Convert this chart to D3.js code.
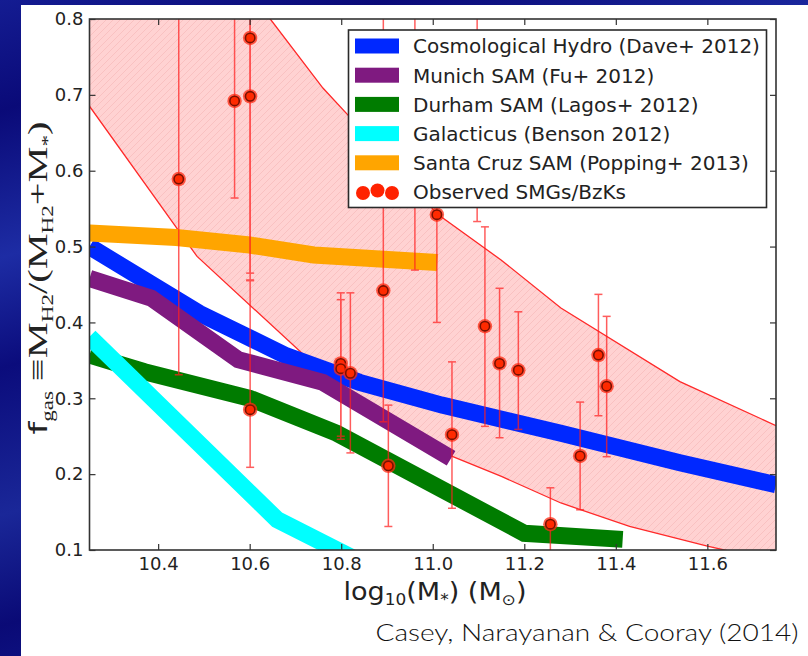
<!DOCTYPE html>
<html><head><meta charset="utf-8">
<script src="https://cdn.jsdelivr.net/npm/d3@7"></script>
<style>html,body{margin:0;padding:0;background:#fff;}svg{display:block;}</style>
</head><body>
<svg id="c" width="808" height="656"></svg>
<script>
// ---------------- data ----------------
const xTicks = [10.4, 10.6, 10.8, 11.0, 11.2, 11.4, 11.6];
const yTicks = [0.1, 0.2, 0.3, 0.4, 0.5, 0.6, 0.7, 0.8];

const hydro = [[10.25,0.50],[10.49,0.412],[10.68,0.356],[10.84,0.321],[11.02,0.291],[11.28,0.254],[11.54,0.215],[11.75,0.186]];
const munich = [[10.25,0.458],[10.385,0.432],[10.575,0.351],[10.76,0.321],[11.04,0.221]];
const durham = [[10.25,0.357],[10.37,0.335],[10.6,0.30],[10.79,0.254],[11.2,0.122],[11.415,0.114]];
const galacticus = [[10.25,0.381],[10.66,0.14],[10.84,0.085]];
const santaCruz = [[10.25,0.518],[10.44,0.512],[10.6,0.502],[10.74,0.489],[11.01,0.479]];

const bandUpper = [[10.25,1.11],[10.645,0.80],[10.76,0.709],[10.82,0.67],[11.01,0.543],[11.15,0.482],[11.28,0.419],[11.54,0.322],[11.75,0.264]];
const bandLower = [[10.25,0.685],[10.485,0.487],[10.76,0.334],[11.04,0.224],[11.15,0.197],[11.28,0.162],[11.43,0.131],[11.6,0.105],[11.75,0.085]];

const obsX  = [10.445,10.567,10.601,10.601,10.601,10.799,10.799,10.820,10.892,10.903,10.961,11.009,11.042,11.097,11.114,11.146,11.187,11.257,11.322,11.362,11.380];
const obsY  = [0.589, 0.692, 0.775, 0.698, 0.285, 0.346, 0.339, 0.333, 0.442, 0.211, 0.90,  0.542, 0.252, 0.86,  0.395, 0.346, 0.337, 0.134, 0.224, 0.357, 0.316];
const obsLo = [0.331, 0.564, 0.465, 0.456, 0.209, 0.250, 0.246, 0.228, 0.269, 0.131, 0.469, 0.400, 0.155, 0.533, 0.263, 0.248, 0.259, 0.05,  0.153, 0.277, 0.223];
const obsHi = [0.95,  0.95,  0.95,  0.95,  0.455, 0.439, 0.430, 0.439, 0.95,  0.291, 1.2,   0.68,  0.348, 1.2,   0.526, 0.445, 0.414, 0.182, 0.295, 0.437, 0.408];

const legendLabels = ["Cosmological Hydro (Dave+ 2012)","Munich SAM (Fu+ 2012)","Durham SAM (Lagos+ 2012)","Galacticus (Benson 2012)","Santa Cruz SAM (Popping+ 2013)","Observed SMGs/BzKs"];
const seriesColors = ["#0028ff","#7f1a80","#007c00","#00ffff","#ffa500"];
const credit = "Casey, Narayanan & Cooray (2014)";

// ---------------- layout ----------------
const svg = d3.select("#c");
const L = 89.5, R = 776, T = 19, B = 550;
const x = d3.scaleLinear().domain([10.25, 11.75]).range([L, R]);
const y = d3.scaleLinear().domain([0.1, 0.8]).range([B, T]);

const defs = svg.append("defs");
const bg = defs.append("linearGradient").attr("id","bg").attr("x1","0").attr("y1","0").attr("x2","0.35").attr("y2","1");
[[0,"#141c92"],[0.15,"#0a0a78"],[0.35,"#1d2ca4"],[0.5,"#0b0c7c"],[0.7,"#1a2798"],[0.85,"#0a0a76"],[1,"#121a8e"]]
  .forEach(([o,c])=>bg.append("stop").attr("offset",o).attr("stop-color",c));
const pat = defs.append("pattern").attr("id","hatch").attr("patternUnits","userSpaceOnUse").attr("width",7).attr("height",7);
pat.append("rect").attr("width",7).attr("height",7).attr("fill","#ffd2d2");
pat.append("path").attr("d","M-1,1 l2,-2 M0,7 l7,-7 M6,8 l2,-2").attr("stroke","#f7bcbc").attr("stroke-width",0.8);
defs.append("clipPath").attr("id","plotclip").append("rect").attr("x",L).attr("y",T).attr("width",R-L).attr("height",B-T);

svg.append("rect").attr("width",808).attr("height",656).attr("fill","url(#bg)");
svg.append("rect").attr("x",21).attr("y",5).attr("width",787).attr("height",651).attr("fill","#fff");

const plot = svg.append("g").attr("clip-path","url(#plotclip)");
const line = d3.line().x(d=>x(d[0])).y(d=>y(d[1]));

// band
const bandPoly = bandUpper.concat(bandLower.slice().reverse());
plot.append("path").attr("d", line(bandPoly)+"Z").attr("fill","url(#hatch)");
plot.append("path").attr("d", line(bandUpper)).attr("fill","none").attr("stroke","#ff2a2a").attr("stroke-width",1.3);
plot.append("path").attr("d", line(bandLower)).attr("fill","none").attr("stroke","#ff2a2a").attr("stroke-width",1.3);

// model curves
[hydro, munich, durham, galacticus, santaCruz].forEach((s,i)=>{
  plot.append("path").attr("d", line(s)).attr("fill","none")
    .attr("stroke", seriesColors[i]).attr("stroke-width",17).attr("stroke-linejoin","miter").attr("stroke-linecap","butt");
});

// error bars
const eb = plot.append("g").attr("stroke","#ff2020").attr("stroke-width",1.5).attr("opacity",0.72);
obsX.forEach((xv,i)=>{
  const xp = x(xv);
  eb.append("line").attr("x1",xp).attr("x2",xp).attr("y1",y(obsLo[i])).attr("y2",y(obsHi[i]));
  [obsLo[i], obsHi[i]].forEach(v=>{
    eb.append("line").attr("x1",xp-4).attr("x2",xp+4).attr("y1",y(v)).attr("y2",y(v));
  });
});
// points
obsX.forEach((xv,i)=>{
  plot.append("circle").attr("cx",x(xv)).attr("cy",y(obsY[i])).attr("r",7.2).attr("fill","#ff2a10").attr("opacity",0.75);
  plot.append("circle").attr("cx",x(xv)).attr("cy",y(obsY[i])).attr("r",4.7).attr("fill","#ff2a00").attr("stroke","#7a1000").attr("stroke-width",1.6);
});

// axes
const tickCol = "#333";
const fmt = d3.format(".1f");
const gx = svg.append("g").attr("transform",`translate(0,${B})`)
  .call(d3.axisBottom(x).tickValues(xTicks).tickFormat(fmt).tickSize(-6).tickPadding(7));
const gy = svg.append("g").attr("transform",`translate(${L},0)`)
  .call(d3.axisLeft(y).tickValues(yTicks).tickFormat(fmt).tickSize(-6).tickPadding(6));
const gt = svg.append("g").attr("transform",`translate(0,${T})`)
  .call(d3.axisTop(x).tickValues(xTicks).tickFormat("").tickSize(-6));
const gr = svg.append("g").attr("transform",`translate(${R},0)`)
  .call(d3.axisRight(y).tickValues(yTicks).tickFormat("").tickSize(-6));
[gx,gy,gt,gr].forEach(g=>{
  g.select(".domain").remove();
  g.selectAll(".tick line").attr("stroke",tickCol).attr("stroke-width",1.2);
  g.selectAll(".tick text").attr("fill","#222").style("font-family","'DejaVu Sans', sans-serif").style("font-size","18px");
});
svg.append("rect").attr("x",L).attr("y",T).attr("width",R-L).attr("height",B-T)
  .attr("fill","none").attr("stroke","#333").attr("stroke-width",1.6);

// x label
const xl = svg.append("text").attr("x",435).attr("y",600).attr("text-anchor","middle")
  .attr("fill","#222").style("font-family","'DejaVu Sans', sans-serif").style("font-size","24px")
  .attr("textLength",183).attr("lengthAdjust","spacingAndGlyphs");
xl.append("tspan").text("log");
xl.append("tspan").attr("dy",5).style("font-size","15px").text("10");
xl.append("tspan").attr("dy",-5).text("(M");
xl.append("tspan").attr("dy",5).style("font-size","15px").text("*");
xl.append("tspan").attr("dy",-5).text(") (M");
xl.append("tspan").attr("dy",5).style("font-size","15px").text("⊙");
xl.append("tspan").attr("dy",-5).text(")");

// y label
const yl = svg.append("text").attr("transform","translate(47,278) rotate(-90)").attr("text-anchor","middle")
  .attr("fill","#222").style("font-family","'Liberation Serif', serif").style("font-size","28px")
  .attr("textLength",313).attr("lengthAdjust","spacingAndGlyphs");
yl.append("tspan").style("font-family","'DejaVu Sans', sans-serif").style("font-size","25px").text("f");
yl.append("tspan").attr("dy",6).style("font-size","16px").text("gas");
yl.append("tspan").attr("dy",-6).text(" ≡M");
yl.append("tspan").attr("dy",6).style("font-size","16px").text("H2");
yl.append("tspan").attr("dy",-6).text("/(M");
yl.append("tspan").attr("dy",6).style("font-size","16px").text("H2");
yl.append("tspan").attr("dy",-6).text("+M");
yl.append("tspan").attr("dy",6).style("font-size","16px").text("*");
yl.append("tspan").attr("dy",-6).text(")");

// credit
svg.append("text").attr("x",587).attr("y",641).attr("text-anchor","middle")
  .attr("fill","#111").style("font-family","Lato, 'Open Sans', sans-serif").style("font-weight",300).style("font-size","24px")
  .attr("textLength",423).attr("lengthAdjust","spacingAndGlyphs").text(credit);

// legend
const lg = svg.append("g");
lg.append("rect").attr("x",348.5).attr("y",30).attr("width",418).attr("height",177.5)
  .attr("fill","#fff").attr("stroke","#2a2a2a").attr("stroke-width",1.6);
const rowY = d3.scaleLinear().domain([0,5]).range([46,192]);
legendLabels.forEach((lab,i)=>{
  const cy = rowY(i);
  if (i < 5) {
    lg.append("rect").attr("x",355).attr("y",cy-7.5).attr("width",44).attr("height",15).attr("fill",seriesColors[i]);
  } else {
    [363,377.5,392].forEach((cx,k)=>lg.append("circle").attr("cx",cx).attr("cy",cy+(k===1?-1.5:1)).attr("r",7).attr("fill","#ff2200"));
  }
  lg.append("text").attr("x",413).attr("y",cy+7.3).attr("fill","#222")
    .style("font-family","'DejaVu Sans', sans-serif").style("font-size","20px").text(lab);
});
</script>
</body></html>
